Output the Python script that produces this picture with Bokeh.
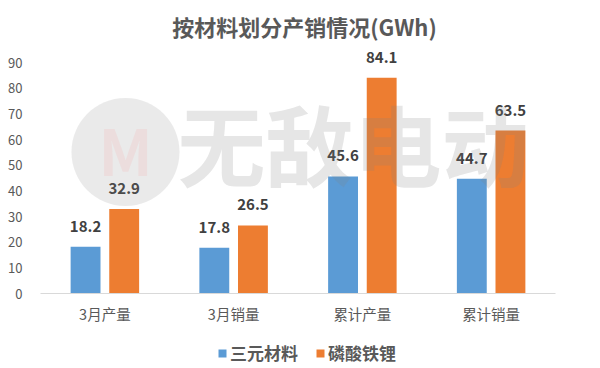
from bokeh.plotting import figure
from bokeh.layouts import column
from bokeh.models import ColumnDataSource, FactorRange, LabelSet, Label, Legend, LegendItem, Range1d
from bokeh.transform import dodge
from bokeh.core.properties import value
from bokeh.embed import file_html
from bokeh.resources import INLINE

categories = ["3月产量", "3月销量", "累计产量", "累计销量"]
series_names = ["三元材料", "磷酸铁锂"]
ternary = [18.2, 17.8, 45.6, 44.7]
lfp = [32.9, 26.5, 84.1, 63.5]
y_ticks = [0, 10, 20, 30, 40, 50, 60, 70, 80, 90]

FONT = "Noto Sans CJK SC"
BLUE = "#5B9BD5"
ORANGE = "#ED7D31"
GRAY = "#595959"

src = ColumnDataSource(dict(
    cat=categories, a=ternary, b=lfp,
    la=[f"{v:.1f}" for v in ternary], lb=[f"{v:.1f}" for v in lfp],
))

# frame spans from the very top of the canvas down to the x axis (0 .. 90 drawn at the same scale)
p = figure(width=600, height=330, output_backend="svg", toolbar_location=None,
           x_range=FactorRange(*categories, range_padding=0), y_range=Range1d(0, 114.16),
           min_border_left=40, min_border_right=45, min_border_top=0, min_border_bottom=37)
p.outline_line_color = None
p.grid.grid_line_color = None
p.background_fill_color = "white"
p.border_fill_color = "white"

r1 = p.vbar(x=dodge("cat", -0.15, range=p.x_range), top="a", width=0.232, source=src,
            fill_color=BLUE, line_color=None)
r2 = p.vbar(x=dodge("cat", 0.15, range=p.x_range), top="b", width=0.232, source=src,
            fill_color=ORANGE, line_color=None)

for col, lab, off in (("a", "la", -0.15), ("b", "lb", 0.15)):
    p.add_layout(LabelSet(x=dodge("cat", off, range=p.x_range), y=col, text=lab, source=src,
                          text_align="center", text_baseline="bottom", y_offset=15,
                          text_font=value(FONT), text_font_size=value("15px"),
                          text_font_style=value("bold"), text_color=value("#404040")))

# axes
p.xaxis.axis_line_color = "#D9D9D9"
p.xaxis.major_tick_line_color = None
p.xaxis.minor_tick_line_color = None
p.xaxis.major_label_text_font = FONT
p.xaxis.major_label_text_font_size = "14.5px"
p.xaxis.major_label_text_color = GRAY
p.xaxis.major_label_standoff = 3

p.yaxis.ticker = y_ticks
p.yaxis.axis_line_color = None
p.yaxis.major_tick_line_color = None
p.yaxis.minor_tick_line_color = None
p.yaxis.major_label_text_font = FONT
p.yaxis.major_label_text_font_size = "13px"
p.yaxis.major_label_text_color = GRAY
p.yaxis.major_label_standoff = 12

# watermark (logo + text)
p.add_layout(Label(x=85, y=148, x_units="screen", y_units="screen",
                   text="●", text_font=FONT, text_font_size="120px", text_color="#808080",
                   text_alpha=0.17, text_align="center", text_baseline="middle"))
p.add_layout(Label(x=85, y=146, x_units="screen", y_units="screen",
                   text="M", text_font=FONT, text_font_size="64px", text_font_style="bold",
                   text_color="#FF8080", text_alpha=0.12, text_align="center", text_baseline="middle"))
p.add_layout(Label(x=313, y=152, x_units="screen", y_units="screen",
                   text="无敌电动", text_font=FONT, text_font_size="88px", text_font_style="bold",
                   text_color="#808080", text_alpha=0.2, text_align="center", text_baseline="middle"))

# title
p.add_layout(Label(x=264, y=268, x_units="screen", y_units="screen",
                   text="按材料划分产销情况(GWh)", text_font=FONT, text_font_size="22px",
                   text_font_style="bold", text_color=GRAY, text_align="center",
                   text_baseline="middle"))

# legend strip below
pl = figure(width=600, height=38, output_backend="svg", toolbar_location=None,
            x_range=Range1d(0, 1), y_range=Range1d(0, 1), x_axis_type=None, y_axis_type=None,
            min_border_left=40, min_border_right=45, min_border_top=0, min_border_bottom=0)
pl.outline_line_color = None
pl.grid.grid_line_color = None
pl.border_fill_color = "white"
d1 = pl.vbar(x=[-5], top=[-5], width=0.1, fill_color=BLUE, line_color=None)
d2 = pl.vbar(x=[-5], top=[-5], width=0.1, fill_color=ORANGE, line_color=None)

legend = Legend(items=[LegendItem(label=series_names[0], renderers=[d1]),
                       LegendItem(label=series_names[1], renderers=[d2])],
                orientation="horizontal", location=(177, 3),
                glyph_width=10, glyph_height=10, label_text_font=FONT,
                label_text_font_size="17px", label_text_font_style="bold",
                label_text_color=GRAY, border_line_color=None, background_fill_alpha=0,
                padding=2, margin=0, spacing=17, label_standoff=3)
pl.add_layout(legend)

layout = column(p, pl, spacing=0)
open("out.html", "w").write(file_html(layout, INLINE))
